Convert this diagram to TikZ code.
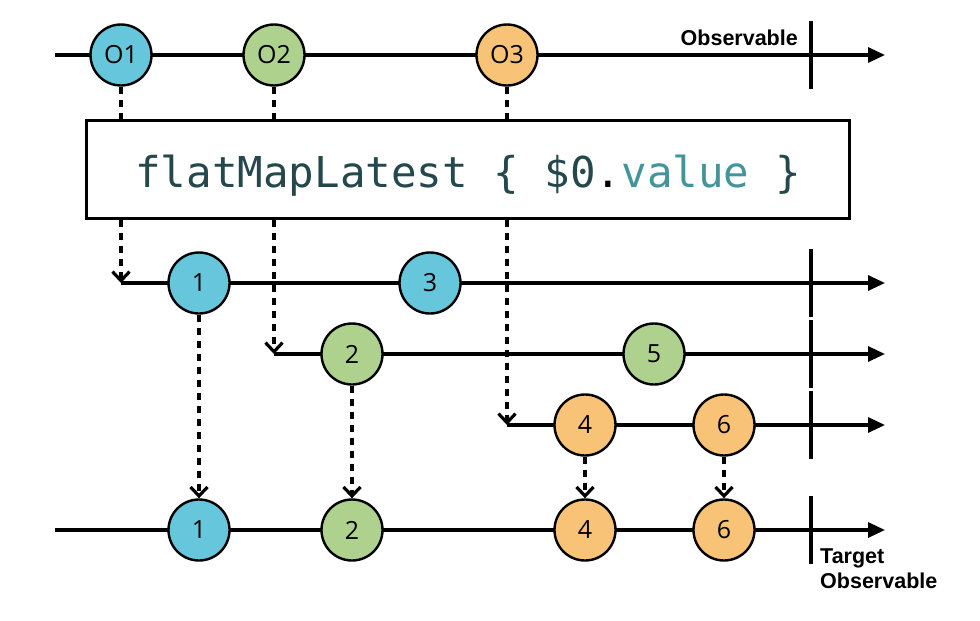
\documentclass[tikz,border=0pt]{standalone}
\usepackage{fontspec}
\setmainfont{Open Sans}
\newfontfamily\labfont{Liberation Sans}
\newfontfamily\codefont{DejaVu Sans Mono}
\usetikzlibrary{arrows.meta}
\definecolor{cblue}{HTML}{66C6DC}
\definecolor{cgreen}{HTML}{AED18E}
\definecolor{corange}{HTML}{F8C377}
\definecolor{codemain}{HTML}{24484B}
\definecolor{codeval}{HTML}{43959B}
\tikzset{
  marble/.style={circle, draw=black, line width=2.4pt, minimum size=61pt, inner sep=0pt, font=\fontsize{25}{25}\selectfont},
  timeline/.style={line width=3.2pt, -{Triangle[length=17pt,width=15pt]}},
  endtick/.style={line width=3.2pt},
  dasharrow/.style={line width=3.2pt, dash pattern=on 7pt off 6pt, -{Straight Barb[length=9pt,width=17pt,line width=3.2pt]}},
  dashline/.style={line width=3.2pt, dash pattern=on 7pt off 6pt},
  tlabel/.style={font=\labfont\bfseries\fontsize{21.5}{25}\selectfont, inner sep=0pt}
}
\begin{document}
\begin{tikzpicture}[x=1pt,y=1pt]
\useasboundingbox (0,0) rectangle (980,-621);
% coordinates
\coordinate (t0s) at (55,-55);
\coordinate (t0e) at (885,-55);
\coordinate (l1s) at (121,-283);
\coordinate (l1e) at (885,-283);
\coordinate (l2s) at (274,-354);
\coordinate (l2e) at (885,-354);
\coordinate (l3s) at (507,-425);
\coordinate (l3e) at (885,-425);
\coordinate (tgs) at (55,-530);
\coordinate (tge) at (885,-530);
% timelines
\draw[timeline] (t0s) -- (t0e);
\draw[timeline] (l1s) -- (l1e);
\draw[timeline] (l2s) -- (l2e);
\draw[timeline] (l3s) -- (l3e);
\draw[timeline] (tgs) -- (tge);
% end ticks
\coordinate (k0a) at (811,-21); \coordinate (k0b) at (811,-89);
\coordinate (k1a) at (811,-249); \coordinate (k1b) at (811,-317);
\coordinate (k2a) at (811,-320); \coordinate (k2b) at (811,-388);
\coordinate (k3a) at (811,-391); \coordinate (k3b) at (811,-459);
\coordinate (kta) at (811,-496); \coordinate (ktb) at (811,-564);
\draw[endtick] (k0a) -- (k0b);
\draw[endtick] (k1a) -- (k1b);
\draw[endtick] (k2a) -- (k2b);
\draw[endtick] (k3a) -- (k3b);
\draw[endtick] (kta) -- (ktb);
% operator box
\node[draw=black, line width=3pt, minimum width=763pt, minimum height=98pt, inner sep=0pt] (box) at (467.5,-169) {};
\node[inner sep=0pt, anchor=base] (code) at (468,-187)
  {\codefont\fontsize{42.5}{42}\selectfont\color{codemain}flatMapLatest \{ \$0\textcolor{black}{.}\textcolor{codeval}{value} \}};
% source marbles
\node[marble, fill=cblue] (o1) at (121,-55) {O1};
\node[marble, fill=cgreen] (o2) at (274,-55) {O2};
\node[marble, fill=corange] (o3) at (507,-55) {O3};
% inner marbles
\node[marble, fill=cblue] (a1) at (199,-283) {1};
\node[marble, fill=cblue] (a3) at (430,-283) {3};
\node[marble, fill=cgreen] (b2) at (352,-354) {2};
\node[marble, fill=cgreen] (b5) at (654,-354) {5};
\node[marble, fill=corange] (c4) at (585,-425) {4};
\node[marble, fill=corange] (c6) at (724,-425) {6};
% target marbles
\node[marble, fill=cblue] (t1) at (199,-530) {1};
\node[marble, fill=cgreen] (t2) at (352,-530) {2};
\node[marble, fill=corange] (t4) at (585,-530) {4};
\node[marble, fill=corange] (t6) at (724,-530) {6};
% dashed connectors
\draw[dashline] (o1.south) -- (o1.south |- box.north);
\draw[dashline] (o2.south) -- (o2.south |- box.north);
\draw[dashline] (o3.south) -- (o3.south |- box.north);
\draw[dasharrow] (o1.south |- box.south) -- (l1s);
\draw[dasharrow] (o2.south |- box.south) -- (l2s);
\draw[dasharrow] (o3.south |- box.south) -- (l3s);
\draw[dasharrow] (a1.south) -- (t1.north);
\draw[dasharrow] (b2.south) -- (t2.north);
\draw[dasharrow] (c4.south) -- (t4.north);
\draw[dasharrow] (c6.south) -- (t6.north);
% labels
\node[tlabel, anchor=base east] (lobs) at (798,-45) {Observable};
\node[tlabel, anchor=base west, align=left] (ltgt) at (820,-588) {Target\\Observable};
\end{tikzpicture}
\end{document}
